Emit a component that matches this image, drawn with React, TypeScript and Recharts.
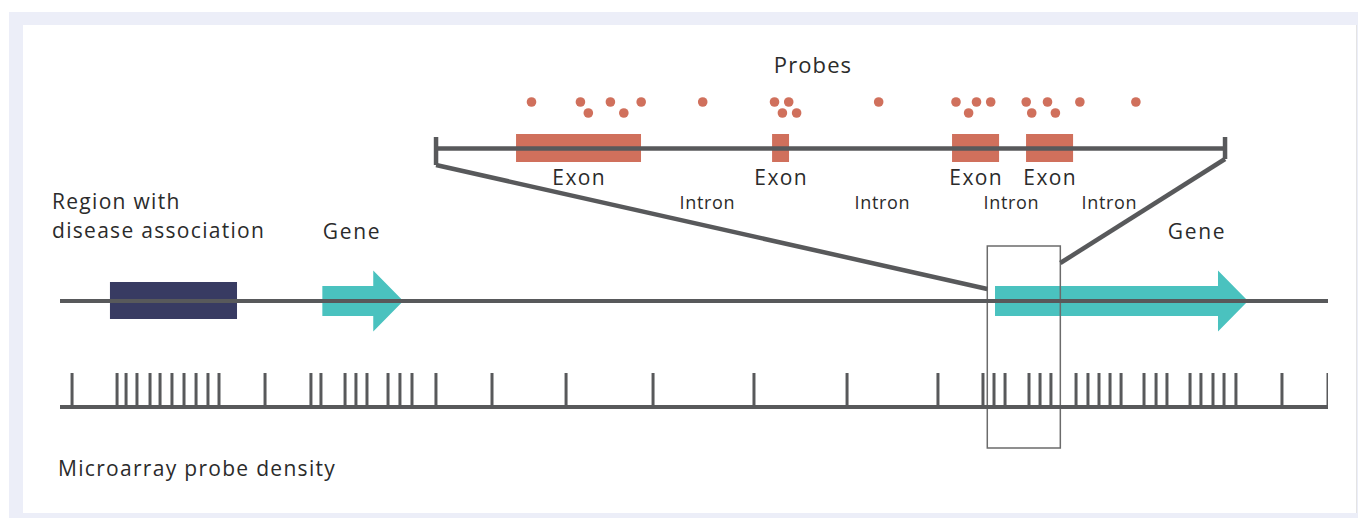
import { ComposedChart, XAxis, YAxis, Scatter, ReferenceLine, ReferenceArea } from 'recharts'

// genome track, kb (0–100 = drawn chromosome segment)
const diseaseRegion = [3.94, 13.96]
const genes = [
  { start: 20.69, end: 27.07 },
  { start: 73.74, end: 93.69 },
]
const zoomWindow = [73.13, 78.89]
const densityProbes = [
  0.95, 4.5, 5.21, 6.07, 7.1, 7.89, 8.83, 9.78, 10.73, 11.67, 12.54,
  16.17, 19.79, 20.58, 22.48, 23.34, 24.21, 25.87, 26.81, 27.76, 29.65,
  34.07, 39.91, 46.77, 54.73, 62.07, 69.24,
  72.79, 73.66, 74.53, 76.42, 77.29, 78.15,
  80.13, 81.07, 81.94, 82.81, 83.68, 85.49, 86.44, 87.3,
  89.12, 89.98, 90.93, 91.8, 92.74, 96.37, 100,
]

// detail view, % of the zoomed window
const exons = [
  [10.14, 25.98],
  [42.59, 44.74],
  [65.4, 71.36],
  [74.78, 80.74],
]
const introns = [34.35, 56.53, 72.88, 85.3]
const probesUpper = [12.1, 18.3, 22.1, 26.0, 33.8, 42.9, 44.7, 56.1, 65.9, 68.5, 70.3, 74.8, 77.5, 81.6, 88.7]
const probesLower = [19.3, 23.8, 43.9, 45.7, 67.5, 75.5, 78.5]

const GENOME_DOMAIN = [0, 100]
const DETAIL_DOMAIN = [-47.66, 113.05]

const ORANGE = '#d0705c'
const NAVY = '#383b62'
const TEAL = '#4ac2bf'
const GREY = '#58595b'
const INK = '#2b2b2b'
const FONT = '"Open Sans", sans-serif'

// row heights (px from top)
const ROW = {
  probeHi: 102, probeLo: 113, track: 148.5, exonTop: 134, exonBot: 162,
  bracketTop: 137, exonLabel: 185, intronLabel: 209,
  gene: 301, arrowTop: 270.5, arrowBot: 331.5, boxTop: 246, boxBot: 448,
  density: 407, tickLen: 34,
}

// map a detail coordinate onto the genome axis (both share the plot width)
const detailToGenome = (d: number) => {
  const f = (d - DETAIL_DOMAIN[0]) / (DETAIL_DOMAIN[1] - DETAIL_DOMAIN[0])
  return GENOME_DOMAIN[0] + f * (GENOME_DOMAIN[1] - GENOME_DOMAIN[0])
}

const arrowShape = (p: any) => {
  const { x, y, width, height } = p
  const head = 30
  const body = 30
  const cy = y + height / 2
  const bx = x + width - head
  const pts = [
    [x, cy - body / 2], [bx, cy - body / 2], [bx, y], [x + width, cy],
    [bx, y + height], [bx, cy + body / 2], [x, cy + body / 2],
  ]
  return <polygon points={pts.map((q) => q.join(',')).join(' ')} fill={TEAL} />
}

const dot = (p: any) => <circle cx={p.cx} cy={p.cy} r={4.8} fill={ORANGE} />
const tick = (p: any) => (
  <line x1={p.cx} x2={p.cx} y1={p.cy - ROW.tickLen} y2={p.cy} stroke={GREY} strokeWidth={3} />
)
const textShape = (size: number, spacing: number) => (p: any) => (
  <text
    x={p.cx + spacing / 2} y={p.cy} textAnchor="middle" fontSize={size}
    fontFamily={FONT} fill={INK} letterSpacing={spacing}
  >
    {p.payload.label}
  </text>
)

const seg = { stroke: GREY, strokeWidth: 4.5, ifOverflow: 'visible' as const }
const txt = { fontSize: 21, fontFamily: FONT, fill: INK, letterSpacing: 1.3 }

export default function App() {
  return (
    <div style={{ position: 'absolute', left: 0, top: 0, width: 1358, height: 518, background: '#fff' }}>
      <div style={{ position: 'absolute', left: 9, top: 12, width: 1349, height: 506, background: '#eceef8' }} />
      <div style={{ position: 'absolute', left: 23, top: 25, width: 1333, height: 488, background: '#fff', borderRight: '1px solid #e4e4e4' }} />
      <div style={{ position: 'absolute', left: 0, top: 0 }}>
        <ComposedChart width={1358} height={518} margin={{ top: 0, right: 30, bottom: 0, left: 60 }}>
          <XAxis xAxisId="genome" type="number" dataKey="x" domain={GENOME_DOMAIN} allowDataOverflow hide />
          <XAxis xAxisId="detail" type="number" dataKey="x" domain={DETAIL_DOMAIN} allowDataOverflow hide />
          <YAxis type="number" dataKey="y" domain={[0, 518]} reversed allowDataOverflow hide />

          {/* detail track with bracket and connectors */}
          <ReferenceLine xAxisId="detail" segment={[{ x: 0, y: ROW.track }, { x: 100, y: ROW.track }]} {...seg} />
          <ReferenceLine xAxisId="detail" segment={[{ x: 0, y: ROW.bracketTop }, { x: 0, y: 165 }]} {...seg} />
          <ReferenceLine xAxisId="detail" segment={[{ x: 100, y: ROW.bracketTop }, { x: 100, y: 159 }]} {...seg} />
          <ReferenceLine
            xAxisId="genome"
            segment={[{ x: detailToGenome(0), y: 165 }, { x: zoomWindow[0], y: 289 }]}
            {...seg}
          />
          <ReferenceLine
            xAxisId="genome"
            segment={[{ x: detailToGenome(100), y: 159 }, { x: zoomWindow[1], y: 263 }]}
            {...seg}
          />
          {exons.map(([a, b], i) => (
            <ReferenceArea
              key={`ex${i}`} xAxisId="detail" x1={a} x2={b} y1={ROW.exonTop} y2={ROW.exonBot}
              fill={ORANGE} fillOpacity={1} stroke="none" ifOverflow="visible"
            />
          ))}
          <Scatter xAxisId="detail" data={probesUpper.map((x) => ({ x, y: ROW.probeHi }))} shape={dot} isAnimationActive={false} />
          <Scatter xAxisId="detail" data={probesLower.map((x) => ({ x, y: ROW.probeLo }))} shape={dot} isAnimationActive={false} />
          <Scatter
            xAxisId="detail"
            data={exons.map(([a, b]) => ({ x: (a + b) / 2, y: ROW.exonLabel, label: 'Exon' }))}
            shape={textShape(21, 1.4)}
            isAnimationActive={false}
          />
          <Scatter
            xAxisId="detail"
            data={introns.map((x) => ({ x, y: ROW.intronLabel, label: 'Intron' }))}
            shape={textShape(18, 0.7)}
            isAnimationActive={false}
          />

          {/* gene track */}
          <ReferenceLine xAxisId="genome" segment={[{ x: 0, y: ROW.gene }, { x: 100, y: ROW.gene }]} {...seg} strokeWidth={4} />
          <ReferenceArea
            xAxisId="genome" x1={diseaseRegion[0]} x2={diseaseRegion[1]} y1={282} y2={319}
            fill={NAVY} fillOpacity={1} stroke="none" ifOverflow="visible"
          />
          {genes.map((g, i) => (
            <ReferenceArea
              key={`g${i}`} xAxisId="genome" x1={g.start} x2={g.end} y1={ROW.arrowTop} y2={ROW.arrowBot}
              shape={arrowShape} ifOverflow="visible"
            />
          ))}

          {/* probe density */}
          <ReferenceLine xAxisId="genome" segment={[{ x: 0, y: ROW.density }, { x: 100, y: ROW.density }]} {...seg} strokeWidth={4} />
          <Scatter xAxisId="genome" data={densityProbes.map((x) => ({ x, y: ROW.density }))} shape={tick} isAnimationActive={false} />

          <ReferenceArea
            xAxisId="genome" x1={zoomWindow[0]} x2={zoomWindow[1]} y1={ROW.boxTop} y2={ROW.boxBot}
            fill="none" stroke="#6b6b6b" strokeWidth={1.5} ifOverflow="visible"
          />

          <text x={813} y={73} textAnchor="middle" {...txt} fontSize={22} letterSpacing={1.1}>Probes</text>
          <text x={52} y={209} {...txt}>Region with</text>
          <text x={52} y={238} {...txt}>disease association</text>
          <text x={352} y={239} textAnchor="middle" {...txt} letterSpacing={1.7}>Gene</text>
          <text x={1197} y={239} textAnchor="middle" {...txt} letterSpacing={1.7}>Gene</text>
          <text x={58} y={476} {...txt}>Microarray probe density</text>
        </ComposedChart>
      </div>
    </div>
  )
}
